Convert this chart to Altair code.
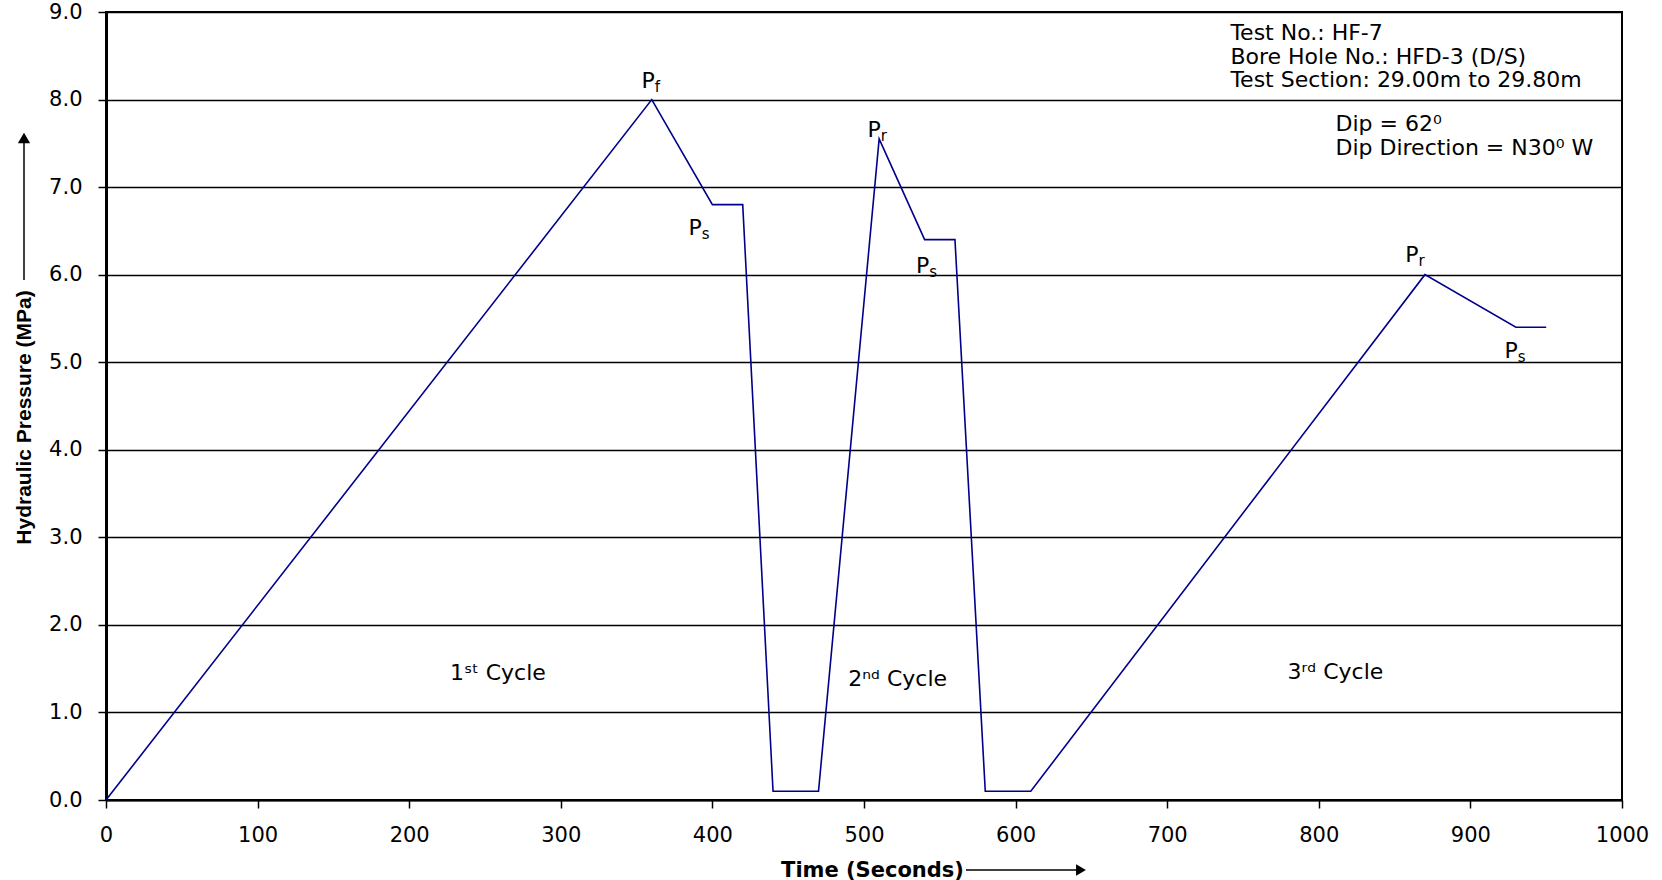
import altair as alt
import pandas as pd

# ---- data ----
time_s = [0, 360, 400, 420, 440, 470, 510, 540, 560, 580, 610, 870, 930, 950]
pressure = [0.0, 8.0, 6.8, 6.8, 0.1, 0.1, 7.55, 6.4, 6.4, 0.1, 0.1, 6.0, 5.4, 5.4]

# P labels with subscripts (x = right edge of "P", y = baseline)
p_lab_x = [362.0, 393.0, 511.0, 543.0, 865.8, 931.2]
p_lab_y = [8.13, 6.45, 7.57, 6.02, 6.14, 5.05]
p_lab_sub = ["f", "s", "r", "s", "r", "s"]

cycle_text = ["1ˢᵗ Cycle", "2ⁿᵈ Cycle", "3ʳᵈ Cycle"]
cycle_x = [258.5, 522.2, 811.0]
cycle_y = [1.45, 1.38, 1.46]

info_text = ["Test No.: HF-7", "Bore Hole No.: HFD-3 (D/S)", "Test Section: 29.00m to 29.80m"]
info_x = [741.7, 741.7, 741.7]
info_y = [8.76, 8.49, 8.22]

dip_text = ["Dip = 62⁰", "Dip Direction = N30⁰ W"]
dip_x = [811.0, 811.0]
dip_y = [7.72, 7.45]

x_ticks = list(range(0, 1001, 100))
y_ticks = [0, 1, 2, 3, 4, 5, 6, 7, 8, 9]

LINE_COLOR = "#00008B"
FONT = "DejaVu Sans"

xscale = alt.Scale(domain=[0, 1000], nice=False)
yscale = alt.Scale(domain=[0, 9], nice=False)

df = pd.DataFrame({"t": time_s, "p": pressure})

line = alt.Chart(df).mark_line(color=LINE_COLOR, strokeWidth=1.6).encode(
    x=alt.X("t:Q", scale=xscale,
            axis=alt.Axis(values=x_ticks, format="d", title="Time (Seconds)",
                          titleFont=FONT, titleFontWeight="bold", titleFontSize=21,
                          titleX=766, titleY=70, titleAlign="center", titleBaseline="middle",
                          labelFont=FONT, labelFontSize=21, labelColor="black",
                          labelFlush=False, labelOverlap=False,
                          labelPadding=16, tickSize=8, tickWidth=1.5, tickColor="black",
                          domainColor="black", domainWidth=2, grid=False)),
    y=alt.Y("p:Q", scale=yscale,
            axis=alt.Axis(values=y_ticks, format=".1f", title="Hydraulic Pressure (MPa)",
                          titleFont="Liberation Sans", titleFontWeight="bold", titleFontSize=21,
                          titleX=-82, titleY=405, titleAngle=270, titleAlign="center",
                          titleBaseline="middle",
                          labelFont=FONT, labelFontSize=21, labelColor="black",
                          labelFlush=False, labelOverlap=False,
                          labelPadding=16, tickSize=8, tickWidth=1.5, tickColor="black",
                          domainColor="black", domainWidth=3,
                          grid=True, gridColor="black", gridWidth=1.5, gridOpacity=1)),
)

pdf = pd.DataFrame({"x": p_lab_x, "y": p_lab_y, "sub": p_lab_sub, "P": ["P"] * 6})
p_main = alt.Chart(pdf).mark_text(font=FONT, fontSize=22, align="right",
                                  baseline="alphabetic", color="black").encode(
    x=alt.X("x:Q", scale=xscale), y=alt.Y("y:Q", scale=yscale), text="P:N")
p_sub = alt.Chart(pdf).mark_text(font=FONT, fontSize=15, align="left",
                                 baseline="alphabetic", dy=4, dx=0, color="black").encode(
    x=alt.X("x:Q", scale=xscale), y=alt.Y("y:Q", scale=yscale), text="sub:N")

cdf = pd.DataFrame({"x": cycle_x, "y": cycle_y, "txt": cycle_text})
cyc = alt.Chart(cdf).mark_text(font=FONT, fontSize=22, align="center",
                               baseline="middle", color="black").encode(
    x=alt.X("x:Q", scale=xscale), y=alt.Y("y:Q", scale=yscale), text="txt:N")

idf = pd.DataFrame({"x": info_x + dip_x, "y": info_y + dip_y, "txt": info_text + dip_text})
info = alt.Chart(idf).mark_text(font=FONT, fontSize=22, align="left",
                                baseline="middle", color="black").encode(
    x=alt.X("x:Q", scale=xscale), y=alt.Y("y:Q", scale=yscale), text="txt:N")

# decorative arrows next to the axis titles
y_arrow = alt.Chart(pd.DataFrame({"a": [0]})).mark_rule(color="black", strokeWidth=1.5).encode(
    x=alt.value(-82), y=alt.value(128), y2=alt.value(268))
y_head = alt.Chart(pd.DataFrame({"a": [0]})).mark_point(
    shape="triangle-up", filled=True, color="black", opacity=1, size=150).encode(
    x=alt.value(-82), y=alt.value(126))
x_arrow = alt.Chart(pd.DataFrame({"a": [0]})).mark_rule(color="black", strokeWidth=1.5).encode(
    x=alt.value(860), x2=alt.value(972), y=alt.value(858))
x_head = alt.Chart(pd.DataFrame({"a": [0]})).mark_point(
    shape="triangle-right", filled=True, color="black", opacity=1, size=130).encode(
    x=alt.value(975), y=alt.value(858))

chart = alt.layer(line, p_main, p_sub, cyc, info, y_arrow, y_head, x_arrow, x_head).properties(
    width=1516, height=788,
    padding={"left": 106, "top": 12, "right": 40, "bottom": 80},
    autosize=alt.AutoSizeParams(type="none"),
    background="white",
).configure_view(stroke="black", strokeWidth=2)

chart.save("out.html", embed_options={"renderer": "svg", "actions": False})
